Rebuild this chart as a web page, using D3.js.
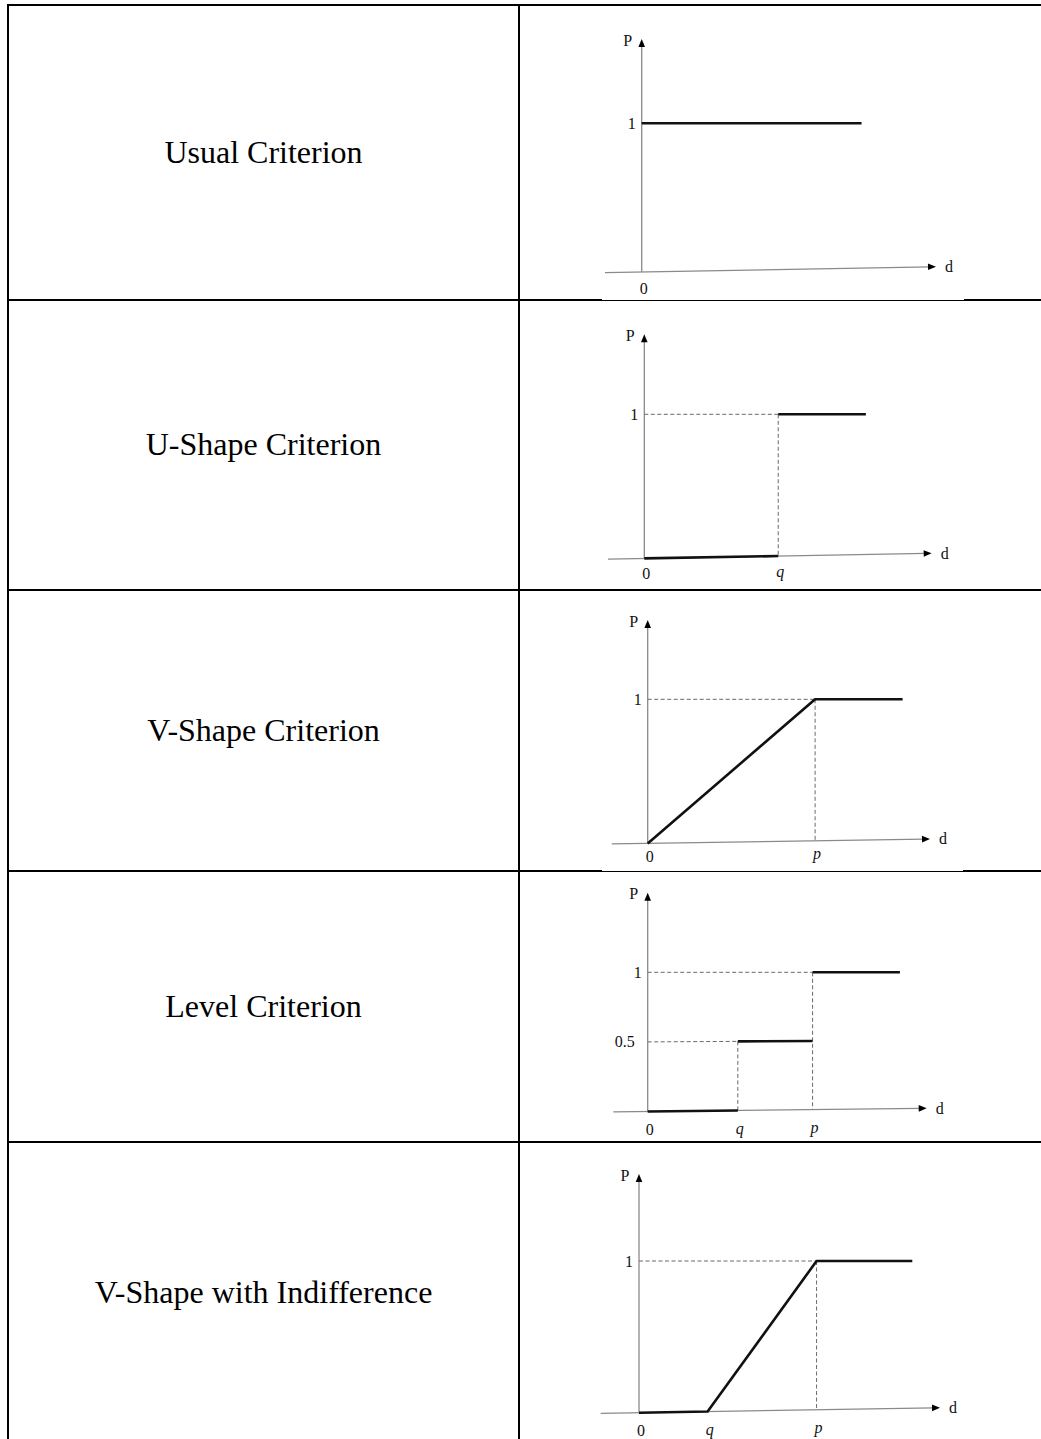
<!DOCTYPE html>
<html><head><meta charset="utf-8">
<script src="https://cdn.jsdelivr.net/npm/d3@7"></script>
<style>html,body{margin:0;padding:0;background:#fff;} svg{display:block;}</style>
</head><body><div id="chart"></div>
<script>
// ---------------- data ----------------
const rowLabels = ["Usual Criterion", "U-Shape Criterion", "V-Shape Criterion", "Level Criterion", "V-Shape with Indifference"];

// preference function polylines, points are [d, P]
const usualCurve  = [[[0, 1], [7.47, 1]]];
const uShapeCurve = [[[0, 0], [4.66, 0]], [[4.66, 1], [7.71, 1]]];
const vShapeCurve = [[[0, 0], [5.93, 1], [9.03, 1]]];
const levelCurve  = [[[0, 0], [3.23, 0]], [[3.23, 0.5], [5.91, 0.5]], [[5.91, 1], [9.04, 1]]];
const vIndiffCurve = [[[0, 0], [2.28, 0], [5.90, 1], [9.08, 1]]];

// dashed guide lines, points are [d, P]
const usualGuides  = [];
const uShapeGuides = [[[0, 1], [4.66, 1]], [[4.66, 1], [4.66, 0]]];
const vShapeGuides = [[[0, 1], [5.93, 1]], [[5.93, 1], [5.93, 0]]];
const levelGuides  = [[[0, 1], [5.91, 1]], [[0, 0.5], [3.23, 0.5]], [[3.23, 0.5], [3.23, 0]], [[5.91, 1], [5.91, 0]]];
const vIndiffGuides = [[[0, 1], [5.90, 1]], [[5.90, 1], [5.90, 0]]];

const xTickValues = [[0], [0, 4.66], [0, 5.93], [0, 3.23, 5.91], [0, 2.28, 5.90]];
const xTickLabels = [["0"], ["0", "q"], ["0", "p"], ["0", "q", "p"], ["0", "q", "p"]];
const yTickValues = [[1], [1], [1], [0.5, 1], [1]];
const yTickLabels = [["1"], ["1"], ["1"], ["0.5", "1"], ["1"]];
const yAxisLabel = "P";
const xAxisLabel = "d";
const dMax = 10;

const curves = [usualCurve, uShapeCurve, vShapeCurve, levelCurve, vIndiffCurve];
const guides = [usualGuides, uShapeGuides, vShapeGuides, levelGuides, vIndiffGuides];

// ---------------- layout ----------------
const W = 1041, H = 1439;
const tableLeft = 8, tableRight = 1070, colDivider = 519;
const rowEdges = [5, 300, 590, 871, 1142, 1444];
const panels = [
  {ox: 641.7, oy: 272.0,  tipX: 936.0, leftX: 605.0, p1Y: 123.3, tipY: 39.0,   slope: 0.0181, zeroGap: 16},
  {ox: 644.3, oy: 558.4,  tipX: 931.7, leftX: 608.0, p1Y: 414.3, tipY: 334.3,  slope: 0.0176, zeroGap: 15},
  {ox: 647.7, oy: 843.4,  tipX: 930.0, leftX: 611.7, p1Y: 699.3, tipY: 620.0,  slope: 0.0157, zeroGap: 13},
  {ox: 647.7, oy: 1111.5, tipX: 926.7, leftX: 613.3, p1Y: 972.3, tipY: 892.7,  slope: 0.0115, zeroGap: 18},
  {ox: 639.0, oy: 1412.7, tipX: 940.0, leftX: 600.7, p1Y: 1261.0, tipY: 1174.0, slope: 0.0165, zeroGap: 17.5}
];
// partial white patches where the pasted figure images cover the table rules
const coverPatches = [{x0: 602, x1: 964, y: 299}, {x0: 602, x1: 963, y: 870}];

const serif = "'Liberation Serif','Times New Roman',Times,serif";
const labelSize = 16;

const svg = d3.select("#chart").append("svg")
  .attr("width", W).attr("height", H).attr("viewBox", `0 0 ${W} ${H}`);
svg.append("rect").attr("width", W).attr("height", H).attr("fill", "#fff");

// ---------------- table ----------------
const grid = svg.append("g").attr("stroke", "#000").attr("stroke-width", 2).attr("fill", "none");
rowEdges.forEach(y => grid.append("line").attr("x1", tableLeft - 1).attr("x2", tableRight).attr("y1", y).attr("y2", y));
grid.append("line").attr("x1", tableLeft).attr("x2", tableLeft).attr("y1", rowEdges[0] - 1).attr("y2", rowEdges[rowEdges.length - 1]);
grid.append("line").attr("x1", colDivider).attr("x2", colDivider).attr("y1", rowEdges[0] - 1).attr("y2", rowEdges[rowEdges.length - 1]);
coverPatches.forEach(c => svg.append("rect").attr("x", c.x0).attr("y", c.y).attr("width", c.x1 - c.x0).attr("height", 1).attr("fill", "#fff"));

// row labels
svg.append("g").selectAll("text").data(rowLabels).join("text")
  .attr("x", (tableLeft + colDivider) / 2)
  .attr("y", (d, i) => (rowEdges[i] + rowEdges[i + 1]) / 2 + 10)
  .attr("text-anchor", "middle")
  .attr("font-family", serif).attr("font-size", 32).attr("fill", "#000")
  .text(d => d);

// ---------------- panels ----------------
panels.forEach((L, i) => {
  const x = d3.scaleLinear().domain([0, dMax]).range([L.ox, L.tipX]);
  const y = d3.scaleLinear().domain([0, 1]).range([L.oy, L.p1Y]);
  // slight scan skew of the baseline
  const pos = (d, P) => [x(d), y(P) - L.slope * (x(d) - L.ox) * (1 - P)];
  const line = d3.line().x(p => pos(p[0], p[1])[0]).y(p => pos(p[0], p[1])[1]);
  const g = svg.append("g");

  // x axis
  const xStart = x.invert(L.leftX);
  const ang = Math.atan(-L.slope) * 180 / Math.PI;
  const tip = pos(dMax, 0);
  g.append("path").attr("d", line([[xStart, 0], [x.invert(L.tipX - 6), 0]]))
    .attr("fill", "none").attr("stroke", "#8a8a8a").attr("stroke-width", 1.3);
  g.append("path").attr("d", "M0,0 L-8,-3.3 L-8,3.3 Z")
    .attr("transform", `translate(${tip[0]},${tip[1]}) rotate(${ang})`).attr("fill", "#000");
  // y axis
  const yTipVal = y.invert(L.tipY);
  g.append("path").attr("d", line([[0, 0], [0, y.invert(L.tipY + 6)]]))
    .attr("fill", "none").attr("stroke", "#8a8a8a").attr("stroke-width", 1.3);
  g.append("path").attr("d", "M0,0 L-3.3,8 L3.3,8 Z")
    .attr("transform", `translate(${x(0)},${y(yTipVal)})`).attr("fill", "#000");

  // guides
  g.append("g").selectAll("path").data(guides[i]).join("path")
    .attr("d", line).attr("fill", "none").attr("stroke", "#6a6a6a")
    .attr("stroke-width", 1).attr("stroke-dasharray", "4,2.5");

  // curve
  g.append("g").selectAll("path").data(curves[i]).join("path")
    .attr("d", line).attr("fill", "none").attr("stroke", "#111")
    .attr("stroke-width", 2.6).attr("stroke-linejoin", "round");

  // x tick labels
  g.append("g").selectAll("text").data(xTickValues[i]).join("text")
    .attr("x", d => x(d) + 2)
    .attr("y", d => pos(d, 0)[1] + L.zeroGap + 5.5)
    .attr("text-anchor", "middle")
    .attr("font-family", serif).attr("font-size", labelSize).attr("fill", "#111")
    .attr("font-style", (d, j) => xTickLabels[i][j] === "0" ? "normal" : "italic")
    .text((d, j) => xTickLabels[i][j]);

  // y tick labels
  g.append("g").selectAll("text").data(yTickValues[i]).join("text")
    .attr("x", (d, j) => x(0) - (yTickLabels[i][j].length > 1 ? 23 : 10))
    .attr("y", d => y(d) + 5.5)
    .attr("text-anchor", "middle")
    .attr("font-family", serif).attr("font-size", labelSize).attr("fill", "#111")
    .text((d, j) => yTickLabels[i][j]);

  // axis names
  g.append("text").attr("x", x(0) - 14).attr("y", y(yTipVal) + 6.5)
    .attr("text-anchor", "middle").attr("font-family", serif).attr("font-size", labelSize).attr("fill", "#111")
    .text(yAxisLabel);
  g.append("text").attr("x", tip[0] + 13).attr("y", tip[1] + 5.5)
    .attr("text-anchor", "middle").attr("font-family", serif).attr("font-size", labelSize).attr("fill", "#111")
    .text(xAxisLabel);
});
</script>
</body></html>
